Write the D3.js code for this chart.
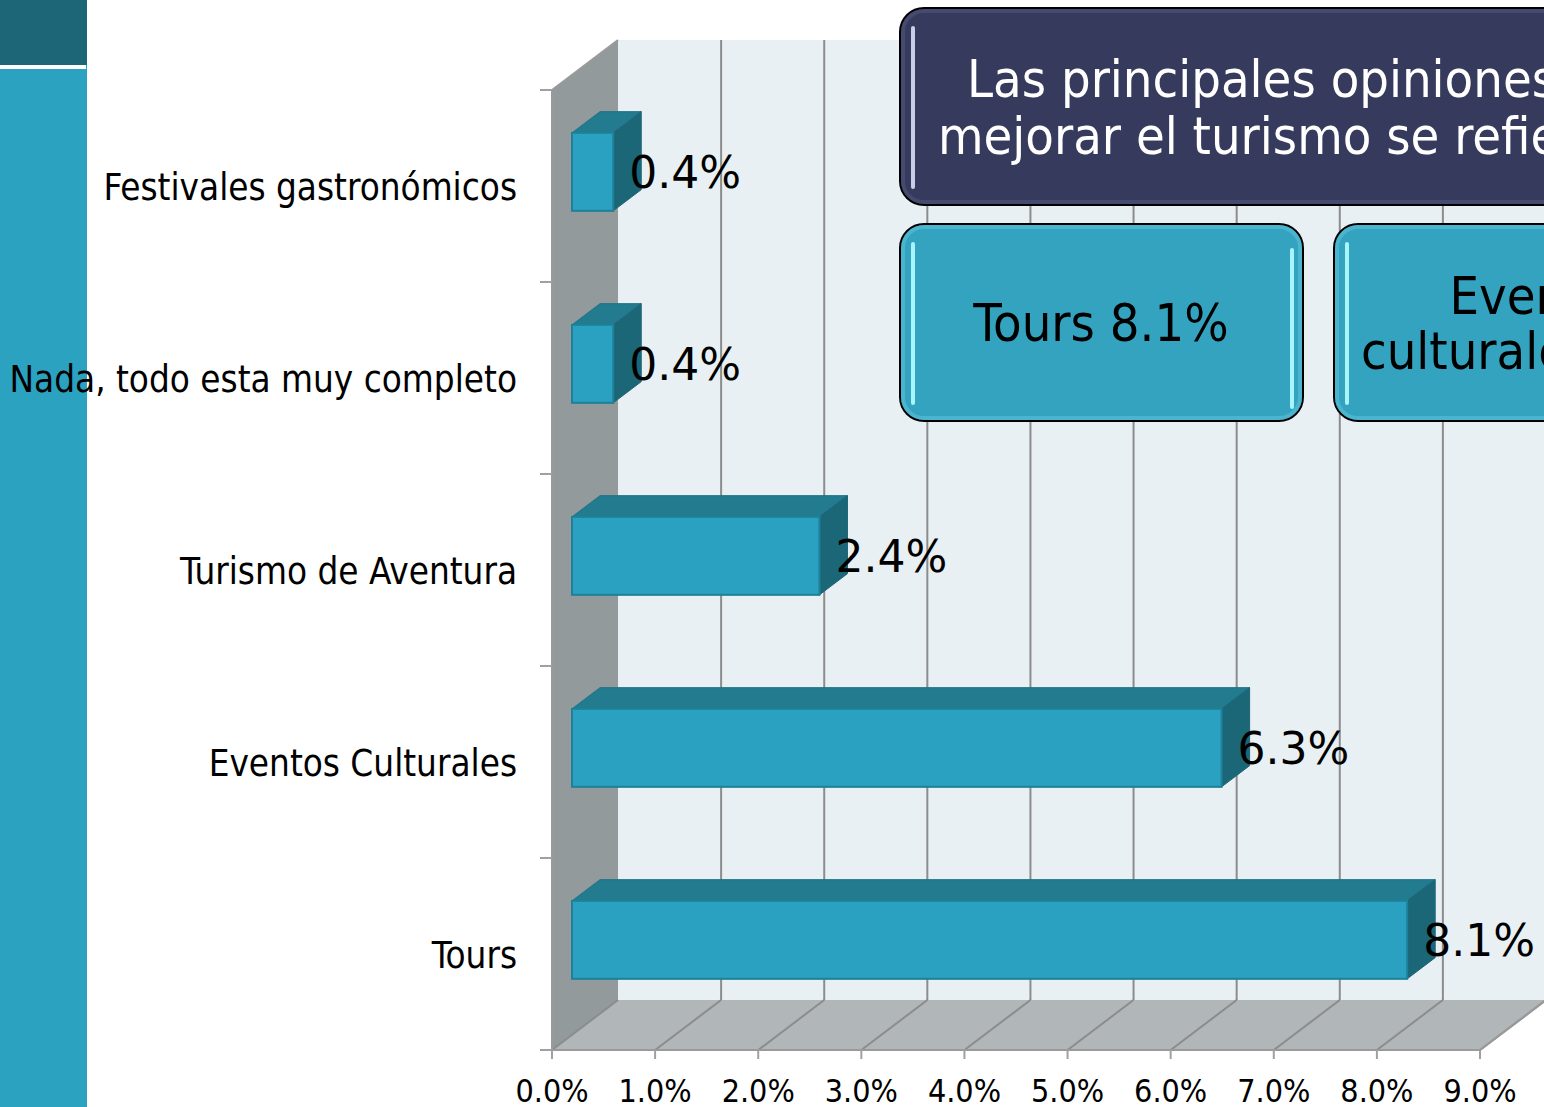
<!DOCTYPE html>
<html>
<head>
    <meta charset="utf-8">
    <title>Opiniones para mejorar el turismo</title>
    <script src="https://cdn.jsdelivr.net/npm/d3@7"></script>
    <style>
        html, body { margin: 0; padding: 0; background: #fff; overflow: hidden; }
        svg { display: block; }
        .cat { font-family: 'DejaVu Sans Condensed', 'DejaVu Sans', sans-serif; font-size: 36.5px; fill: #000; }
        .val { font-family: 'DejaVu Sans', sans-serif; font-size: 44px; fill: #000; }
        .tick { font-family: 'DejaVu Sans Condensed', 'DejaVu Sans', sans-serif; font-size: 32px; fill: #000; }
        .box { font-family: 'DejaVu Sans Condensed', 'DejaVu Sans', sans-serif; }
    </style>
</head>
<body>
<svg id="chart" width="1544" height="1107"></svg>
<script>
// data (percent)
var categories = ["Festivales gastronómicos", "Nada, todo esta muy completo", "Turismo de Aventura", "Eventos Culturales", "Tours"];
var values = [0.4, 0.4, 2.4, 6.3, 8.1];
var ticks = [0, 1, 2, 3, 4, 5, 6, 7, 8, 9];
var titleLines = ["Las principales opiniones para", "mejorar el turismo se refieren a:"];
var calloutA = ["Tours 8.1%"];
var calloutB = ["Eventos", "culturales 6.3%"];

var svg = d3.select("#chart");

// front plane scales; depth is a shear to the back-right
var x = d3.scaleLinear().domain([0, 9]).range([552, 1480]);
var y = d3.scaleBand().domain(categories).range([90, 1050]);
var depthX = 66, depthY = -50;

function pt(v, yy, z) {
    return [x(v) + z * depthX, yy + z * depthY];
}
function poly(points) {
    return points.map(function(p) { return p.join(","); }).join(" ");
}

// side bar on the left
svg.append("rect").attr("x", 0).attr("y", 0).attr("width", 87).attr("height", 1107).attr("fill", "#2ba3c0");
svg.append("rect").attr("x", 0).attr("y", 0).attr("width", 87).attr("height", 65).attr("fill", "#1d6677");
svg.append("rect").attr("x", 0).attr("y", 65).attr("width", 86).attr("height", 4).attr("fill", "#fff");

var y0 = y.range()[0], y1 = y.range()[1];

// back wall
svg.append("polygon")
    .attr("points", poly([pt(0, y0, 1), pt(9, y0, 1), pt(9, y1, 1), pt(0, y1, 1)]))
    .attr("fill", "#e8f0f4");
// floor
svg.append("polygon")
    .attr("points", poly([pt(0, y1, 0), pt(9, y1, 0), pt(9, y1, 1), pt(0, y1, 1)]))
    .attr("fill", "#b1b6b8");
// left wall
svg.append("polygon")
    .attr("points", poly([pt(0, y0, 0), pt(0, y0, 1), pt(0, y1, 1), pt(0, y1, 0)]))
    .attr("fill", "#939a9c");

var grid = svg.append("g").attr("stroke", "#8c8c8c").attr("stroke-width", 2).attr("fill", "none");
ticks.forEach(function(t) {
    var a = pt(t, y0, 1), b = pt(t, y1, 1), c = pt(t, y1, 0);
    if (t > 0) grid.append("line").attr("x1", a[0]).attr("y1", a[1]).attr("x2", b[0]).attr("y2", b[1]);
    grid.append("line").attr("x1", b[0]).attr("y1", b[1]).attr("x2", c[0]).attr("y2", c[1]);
});
// wall edges
grid.append("polyline").attr("points", poly([pt(0, y0, 0), pt(0, y0, 1)])).attr("stroke", "#9a9a9a");
grid.append("line").attr("x1", x(0)).attr("y1", y0).attr("x2", x(0)).attr("y2", y1).attr("stroke", "#9a9a9a");
grid.append("line").attr("x1", x(0)).attr("y1", y1).attr("x2", x(9)).attr("y2", y1).attr("stroke", "#9a9a9a");
grid.append("line").attr("x1", x(9)).attr("y1", y1).attr("x2", x(9) + depthX).attr("y2", y1 + depthY).attr("stroke", "#9a9a9a");

// axis ticks
var tk = svg.append("g").attr("stroke", "#a0a0a0").attr("stroke-width", 2);
ticks.forEach(function(t) {
    tk.append("line").attr("x1", x(t)).attr("y1", y1).attr("x2", x(t)).attr("y2", y1 + 9);
});
d3.range(categories.length + 1).forEach(function(i) {
    var yy = y0 + i * y.step();
    tk.append("line").attr("x1", x(0) - 12).attr("y1", yy).attr("x2", x(0)).attr("y2", yy);
});

svg.append("g").selectAll("text").data(ticks).join("text")
    .attr("class", "tick")
    .attr("x", function(d) { return x(d); })
    .attr("y", 1102)
    .attr("text-anchor", "middle")
    .text(function(d) { return d.toFixed(1) + "%"; });

// bars
var zF = 20 / 66, zB = 48 / 66, halfH = 39;
var bars = svg.append("g").selectAll("g").data(categories).join("g");
bars.each(function(c, i) {
    var g = d3.select(this), v = values[i];
    var yc = y(c) + y.bandwidth() / 2 + 1;
    var top = yc - halfH, bot = yc + halfH;
    // top face
    g.append("polygon")
        .attr("points", poly([pt(0, top, zF), pt(v, top, zF), pt(v, top, zB), pt(0, top, zB)]))
        .attr("fill", "#227b8e").attr("stroke", "#1f7488").attr("stroke-width", 1);
    // side face
    g.append("polygon")
        .attr("points", poly([pt(v, top, zF), pt(v, top, zB), pt(v, bot, zB), pt(v, bot, zF)]))
        .attr("fill", "#1b6677").attr("stroke", "#1b6677").attr("stroke-width", 1);
    // front face
    var f0 = pt(0, top, zF), f1 = pt(v, bot, zF);
    g.append("rect")
        .attr("x", f0[0]).attr("y", f0[1])
        .attr("width", f1[0] - f0[0]).attr("height", f1[1] - f0[1])
        .attr("fill", "#2aa1c0").attr("stroke", "#1f8199").attr("stroke-width", 2);
    g.append("text")
        .attr("class", "val")
        .attr("x", f1[0] + 16)
        .attr("y", yc + zF * depthY + 16)
        .text(v.toFixed(1) + "%");
});

// category labels
svg.append("g").selectAll("text").data(categories).join("text")
    .attr("class", "cat")
    .attr("x", 517)
    .attr("y", function(d) { return y(d) + y.bandwidth() / 2 + 14; })
    .attr("text-anchor", "end")
    .text(function(d) { return d; });

// callout boxes
function callout(bx, by, bw, bh, fill, edge, hl, lines, color, size, lineGap, tx, anchor, rightHl) {
    var g = svg.append("g");
    g.append("rect").attr("x", bx).attr("y", by).attr("width", bw).attr("height", bh)
        .attr("rx", 24).attr("fill", fill).attr("stroke", "#000").attr("stroke-width", 2);
    g.append("rect").attr("x", bx + 3).attr("y", by + 3).attr("width", bw - 6).attr("height", bh - 6)
        .attr("rx", 21).attr("fill", "none").attr("stroke", edge).attr("stroke-width", 4).attr("opacity", 0.6);
    g.append("line").attr("x1", bx + 13).attr("y1", by + 20).attr("x2", bx + 13).attr("y2", by + bh - 18)
        .attr("stroke", hl).attr("stroke-width", 4).attr("stroke-linecap", "round");
    if (rightHl) {
        g.append("line").attr("x1", bx + bw - 11).attr("y1", by + 26).attr("x2", bx + bw - 11).attr("y2", by + bh - 14)
            .attr("stroke", hl).attr("stroke-width", 4).attr("stroke-linecap", "round");
    }
    var firstBase = by + bh / 2 - (lines.length - 1) * lineGap / 2 + size * 0.36;
    lines.forEach(function(l, i) {
        g.append("text").attr("class", "box")
            .attr("x", tx[i]).attr("y", firstBase + i * lineGap)
            .attr("text-anchor", anchor)
            .attr("font-size", size).attr("fill", color)
            .text(l);
    });
}

callout(900, 8, 900, 197, "#363a5c", "#50557a", "#c8cee6", titleLines, "#ffffff", 52, 57, [967, 938], "start", false);
callout(900, 224, 403, 197, "#33a3c0", "#5cc0d8", "#a8f4ff", calloutA, "#000", 52, 0, [1101], "middle", true);
callout(1334, 224, 403, 197, "#33a3c0", "#5cc0d8", "#a8f4ff", calloutB, "#000", 52, 55, [1543, 1543], "middle", true);
</script>
</body>
</html>
